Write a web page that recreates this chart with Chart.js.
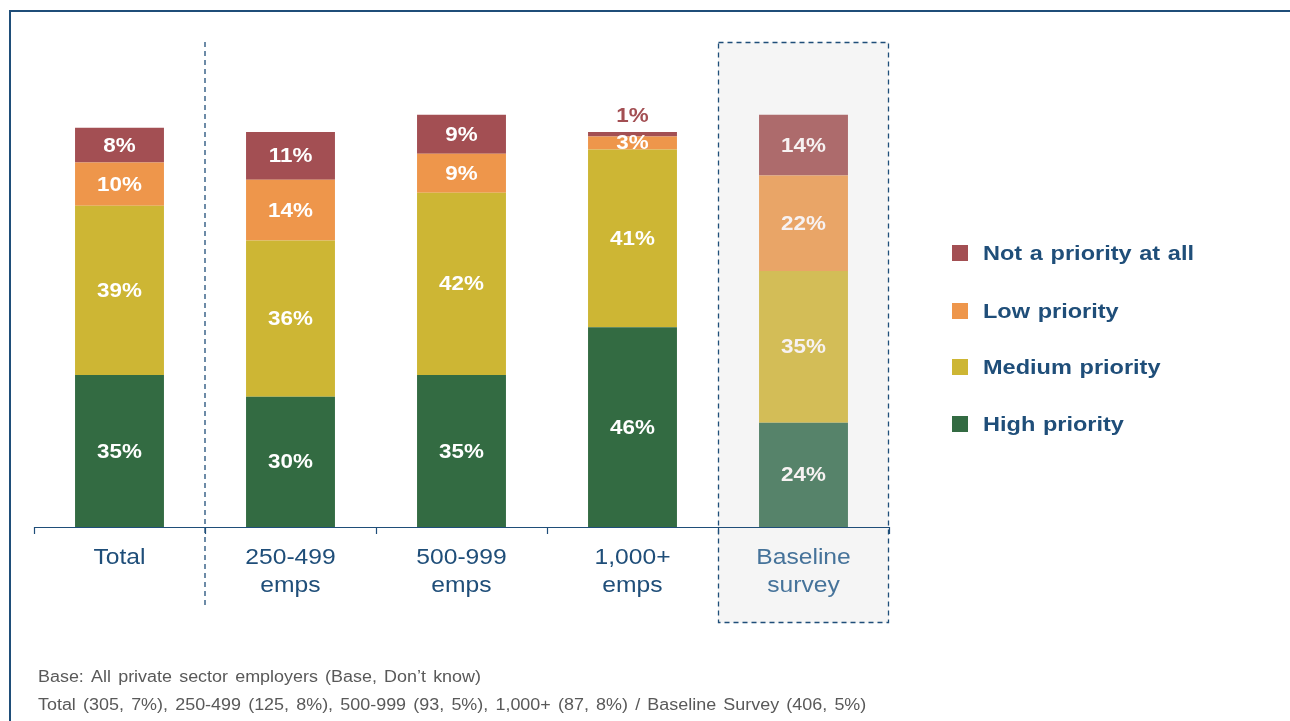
<!DOCTYPE html>
<html>
<head>
<meta charset="utf-8">
<script src="https://cdn.jsdelivr.net/npm/chart.js@4.4.1/dist/chart.umd.min.js"></script>
<style>
  html, body { margin: 0; padding: 0; background: #ffffff; }
  #wrap { width: 1290px; height: 721px; position: relative; }
</style>
</head>
<body>
<div id="wrap"><canvas id="c" width="1290" height="721"></canvas></div>
<script>
// Categories (multi-line axis labels)
const categories = [
  ['Total'],
  ['250-499', 'emps'],
  ['500-999', 'emps'],
  ['1,000+', 'emps'],
  ['Baseline', 'survey']
];

// Priority shares (%) per category, bottom of the stack first
const highPriority   = [35, 30, 35, 46, 24];
const mediumPriority = [39, 36, 42, 41, 35];
const lowPriority    = [10, 14, 9, 3, 22];
const notPriority    = [8, 11, 9, 1, 14];

const seriesNames = ['High priority', 'Medium priority', 'Low priority', 'Not a priority at all'];

const footnotes = [
  'Base: All private sector employers (Base, Don\u2019t know)',
  'Total (305, 7%), 250-499 (125, 8%), 500-999 (93, 5%), 1,000+ (87, 8%) / Baseline Survey (406, 5%)'
];

const NAVY = '#1F4E79';
const FONT = '"Liberation Sans", Arial, sans-serif';
const WIDE = 1.12; // horizontal stretch applied to all text

// Solid colours, and softened tones for the baseline column
const solid = ['#336B42', '#CDB634', '#EE964B', '#A34F53'];
const soft  = ['#56836A', '#D3BD57', '#E9A567', '#AD6B6C'];
const BASE_IDX = 4;

function colours(i) {
  return categories.map((_, j) => j === BASE_IDX ? soft[i] : solid[i]);
}

const seriesValues = [highPriority, mediumPriority, lowPriority, notPriority];

const datasets = seriesValues.map((vals, i) => ({
  label: seriesNames[i],
  data: vals,
  backgroundColor: colours(i),
  borderWidth: 0,
  barPercentage: 0.52,
  categoryPercentage: 1.0
}));

// draw text widened horizontally about its anchor point
function wideText(ctx, txt, x, y, spacing) {
  ctx.save();
  ctx.translate(x, y);
  ctx.scale(WIDE, 1);
  if (spacing) ctx.wordSpacing = spacing + 'px';
  ctx.fillText(txt, 0, 0);
  ctx.restore();
}

// Decorations drawn around the bars using the chart's own scales
const decor = {
  id: 'decor',
  beforeDatasetsDraw(chart) {
    const ctx = chart.ctx;
    const x = chart.scales.x;
    const n = categories.length;
    const step = x.getPixelForValue(1) - x.getPixelForValue(0);
    const left = x.getPixelForValue(0) - step / 2;
    ctx.save();

    // outer frame
    ctx.strokeStyle = NAVY;
    ctx.lineWidth = 2;
    ctx.beginPath();
    ctx.moveTo(10, 721);
    ctx.lineTo(10, 11);
    ctx.lineTo(1290, 11);
    ctx.stroke();

    // baseline highlight box
    const bx0 = x.getPixelForValue(BASE_IDX) - step / 2;
    const bx1 = x.getPixelForValue(BASE_IDX) + step / 2;
    ctx.fillStyle = '#F5F5F5';
    ctx.fillRect(bx0, 42, bx1 - bx0, 581);
    ctx.setLineDash([5, 4]);
    ctx.lineWidth = 1.3;
    ctx.strokeStyle = NAVY;
    ctx.strokeRect(bx0 + 0.5, 42.5, bx1 - bx0 - 1, 580);

    // separator after the Total column
    const sx = left + step;
    ctx.beginPath();
    ctx.moveTo(sx, 42);
    ctx.lineTo(sx, 605);
    ctx.stroke();
    ctx.setLineDash([]);

    // category axis with tick marks
    const y0 = chart.scales.y.getPixelForValue(0);
    ctx.lineWidth = 1.2;
    ctx.beginPath();
    ctx.moveTo(left, y0 + 0.5);
    ctx.lineTo(left + step * n, y0 + 0.5);
    for (let k = 0; k <= n; k++) {
      const tx = Math.round(left + step * k) + 0.5;
      ctx.moveTo(tx, y0);
      ctx.lineTo(tx, y0 + 7);
    }
    ctx.stroke();

    // category labels
    ctx.font = '22px ' + FONT;
    ctx.textAlign = 'center';
    ctx.textBaseline = 'middle';
    categories.forEach((lines, j) => {
      ctx.fillStyle = j === BASE_IDX ? '#46739A' : NAVY;
      const cx = x.getPixelForValue(j);
      lines.forEach((t, l) => wideText(ctx, t, cx, 558 + l * 28));
    });

    // legend, top entry first
    ctx.font = 'bold 21px ' + FONT;
    ctx.textAlign = 'left';
    const legendY = [253, 311, 367, 424];
    for (let r = 0; r < 4; r++) {
      const si = 3 - r;
      ctx.fillStyle = solid[si];
      ctx.fillRect(952, legendY[r] - 8, 16, 16);
      ctx.fillStyle = NAVY;
      wideText(ctx, seriesNames[si], 983, legendY[r] + 1, 1);
    }

    // footnotes
    ctx.font = '16px ' + FONT;
    ctx.fillStyle = '#595959';
    footnotes.forEach((t, l) => wideText(ctx, t, 38, 678 + l * 28, 2));
    ctx.restore();
  },
  afterDatasetsDraw(chart) {
    const ctx = chart.ctx;
    ctx.save();
    ctx.font = 'bold 20px ' + FONT;
    ctx.textAlign = 'center';
    ctx.textBaseline = 'middle';
    chart.data.datasets.forEach((ds, i) => {
      const meta = chart.getDatasetMeta(i);
      meta.data.forEach((bar, j) => {
        const v = ds.data[j];
        const txt = v + '%';
        const props = bar.getProps(['x', 'y', 'base'], true);
        const h = Math.abs(props.base - props.y);
        if (h < 10 && i === 3) {
          // too thin: place the value above the bar
          ctx.fillStyle = solid[3];
          wideText(ctx, txt, props.x, props.y - 16);
        } else {
          ctx.fillStyle = j === BASE_IDX ? '#F7F2F2' : '#FFFFFF';
          wideText(ctx, txt, props.x, (props.y + props.base) / 2 + 1);
        }
      });
    });
    ctx.restore();
  }
};

new Chart(document.getElementById('c'), {
  type: 'bar',
  data: { labels: categories.map(l => l.join(' ')), datasets },
  options: {
    responsive: false,
    animation: false,
    layout: { padding: { left: 34, right: 401, top: 93, bottom: 194 } },
    plugins: { legend: { display: false }, tooltip: { enabled: false } },
    scales: {
      x: { stacked: true, display: false },
      y: { stacked: true, display: false, min: 0, max: 100 }
    }
  },
  plugins: [decor]
});
</script>
</body>
</html>
